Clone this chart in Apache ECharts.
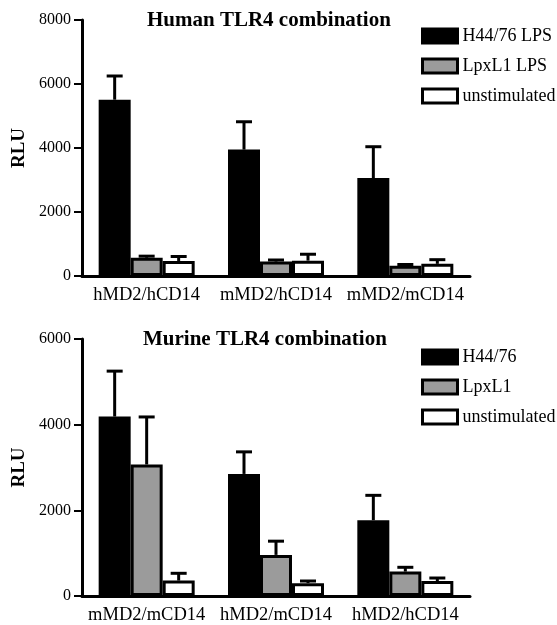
<!DOCTYPE html>
<html>
<head>
<meta charset="utf-8">
<script src="https://cdn.jsdelivr.net/npm/echarts@6/dist/echarts.min.js"></script>
<style>
html,body{margin:0;padding:0;background:#fff;}
#chart{width:557px;height:625px;}
</style>
</head>
<body>
<div id="chart"></div>
<script>
// ---- Data ----
const humanCategories = ['hMD2/hCD14', 'mMD2/hCD14', 'mMD2/mCD14'];
const humanSeriesNames = ['H44/76 LPS', 'LpxL1 LPS', 'unstimulated'];
const humanH44 = [5510, 3950, 3060];
const humanH44Err = [740, 870, 980];
const humanLpx = [570, 450, 320];
const humanLpxErr = [50, 50, 40];
const humanUnst = [470, 480, 380];
const humanUnstErr = [140, 200, 130];
const humanYTicks = [0, 2000, 4000, 6000, 8000];

const murineCategories = ['mMD2/mCD14', 'hMD2/mCD14', 'hMD2/hCD14'];
const murineSeriesNames = ['H44/76', 'LpxL1', 'unstimulated'];
const murineH44 = [4190, 2850, 1770];
const murineH44Err = [1060, 515, 580];
const murineLpx = [3070, 960, 570];
const murineLpxErr = [1110, 320, 100];
const murineUnst = [360, 300, 350];
const murineUnstErr = [170, 50, 70];
const murineYTicks = [0, 2000, 4000, 6000];

// ---- Styles ----
const FONT = "'Liberation Serif', 'Times New Roman', serif";
const BAR_W = 32;
const fills = ['#000000', '#9b9b9b', '#ffffff'];

function barSeries(name, data, gi, pos) {
  return {
    type: 'bar', name: name, data: data,
    xAxisIndex: gi, yAxisIndex: gi,
    barWidth: BAR_W, barGap: '0%',
    itemStyle: { color: fills[pos], borderColor: '#000', borderWidth: 3 },
    emphasis: { disabled: true },
    z: 2
  };
}

function errSeries(vals, errs, gi, pos) {
  return {
    type: 'custom', name: 'err' + gi + pos,
    xAxisIndex: gi, yAxisIndex: gi, z: 1,
    data: vals.map((v, i) => [i, v, errs[i]]),
    renderItem: function (params, api) {
      const i = api.value(0), v = api.value(1), e = api.value(2);
      const p0 = api.coord([i, v]);
      const p1 = api.coord([i, v + e]);
      const x = p0[0] + (pos - 1) * BAR_W;
      const hw = 8;
      const st = { stroke: '#000', lineWidth: 3, fill: null };
      return {
        type: 'group',
        children: [
          { type: 'line', shape: { x1: x, y1: p0[1], x2: x, y2: p1[1] }, style: st },
          { type: 'line', shape: { x1: x - hw, y1: p1[1], x2: x + hw, y2: p1[1] }, style: st }
        ]
      };
    }
  };
}

function xAxisCfg(gi, cats) {
  return {
    type: 'category', gridIndex: gi, data: cats,
    axisLine: { lineStyle: { color: '#000', width: 3 } },
    axisTick: { alignWithLabel: true, length: 7, lineStyle: { width: 3, color: '#000' } },
    axisLabel: { color: '#000', fontFamily: FONT, fontSize: 18.5, margin: 10, interval: 0 }
  };
}
function yAxisCfg(gi, ticks) {
  return {
    type: 'value', gridIndex: gi,
    min: ticks[0], max: ticks[ticks.length - 1], interval: ticks[1] - ticks[0],
    name: 'RLU', nameLocation: 'middle', nameRotate: 90, nameGap: 53,
    nameTextStyle: { color: '#000', fontFamily: FONT, fontSize: 19, fontWeight: 'bold' },
    axisLine: { show: true, lineStyle: { color: '#000', width: 3 } },
    axisTick: { show: true, length: 8, lineStyle: { width: 2, color: '#000' } },
    axisLabel: { color: '#000', fontFamily: FONT, fontSize: 16, margin: 11,
      formatter: v => String(v) },
    splitLine: { show: false }
  };
}
function legendCfg(names, top) {
  return {
    orient: 'vertical', left: 421, top: top, padding: 0,
    itemWidth: 35, itemHeight: 14, itemGap: 12,
    data: names.map(n => ({ name: n, icon: 'rect' })),
    itemStyle: { borderColor: '#000', borderWidth: 3 },
    textStyle: { color: '#000', fontFamily: FONT, fontSize: 18, lineHeight: 18 },
    selectedMode: false
  };
}

const option = {
  animation: false,
  backgroundColor: '#fff',
  title: [
    { text: 'Human TLR4 combination', left: 147, top: 10, padding: 0,
      textStyle: { color: '#000', fontFamily: FONT, fontSize: 21, fontWeight: 'bold' } },
    { text: 'Murine TLR4 combination', left: 143, top: 329, padding: 0,
      textStyle: { color: '#000', fontFamily: FONT, fontSize: 21, fontWeight: 'bold' } }
  ],
  legend: [legendCfg(humanSeriesNames, 27), legendCfg(murineSeriesNames, 348)],
  grid: [
    { left: 82, top: 20, width: 388, height: 256, containLabel: false, outerBoundsMode: 'none' },
    { left: 82, top: 339, width: 388, height: 257, containLabel: false, outerBoundsMode: 'none' }
  ],
  xAxis: [xAxisCfg(0, humanCategories), xAxisCfg(1, murineCategories)],
  yAxis: [yAxisCfg(0, humanYTicks), yAxisCfg(1, murineYTicks)],
  series: [
    barSeries(humanSeriesNames[0], humanH44, 0, 0),
    barSeries(humanSeriesNames[1], humanLpx, 0, 1),
    barSeries(humanSeriesNames[2], humanUnst, 0, 2),
    errSeries(humanH44, humanH44Err, 0, 0),
    errSeries(humanLpx, humanLpxErr, 0, 1),
    errSeries(humanUnst, humanUnstErr, 0, 2),
    barSeries(murineSeriesNames[0], murineH44, 1, 0),
    barSeries(murineSeriesNames[1], murineLpx, 1, 1),
    barSeries(murineSeriesNames[2], murineUnst, 1, 2),
    errSeries(murineH44, murineH44Err, 1, 0),
    errSeries(murineLpx, murineLpxErr, 1, 1),
    errSeries(murineUnst, murineUnstErr, 1, 2)
  ]
};

const chart = echarts.init(document.getElementById('chart'), null, { renderer: 'canvas' });
chart.setOption(option);
</script>
</body>
</html>
